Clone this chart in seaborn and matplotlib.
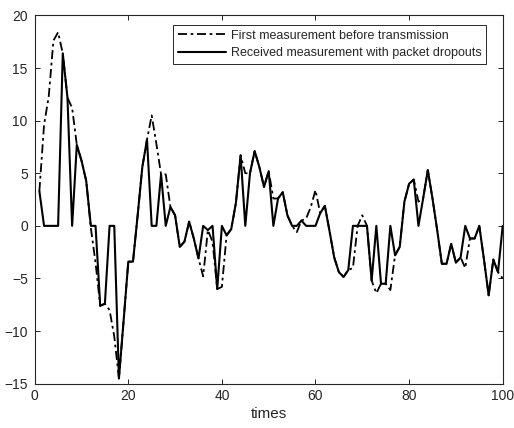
import numpy as np
import pandas as pd
import matplotlib
matplotlib.use("Agg")
import matplotlib.pyplot as plt
import seaborn as sns

# sample index
times = np.arange(1, 101)

# first measurement before transmission (dash-dot)
first_meas = [
    3.3, 9.6, 12.3, 17.6, 18.4, 16.4, 12.2, 11.2, 7.7, 6.2,
    4.3, -0.2, -3.5, -7.6, -7.4, -8.0, -10.5, -14.5, -9.0, -3.4,
    -3.4, 1.0, 5.6, 8.2, 10.5, 7.8, 4.9, 4.9, 1.8, 1.0,
    -2.0, -1.5, 0.4, -1.2, -3.1, -4.8, -0.4, -1.5, -6.0, -5.8,
    -0.9, -0.3, 2.2, 6.7, 5.0, 5.0, 7.1, 5.6, 3.7, 5.2,
    2.6, 2.6, 3.2, 1.0, 0.0, -0.6, 0.5, 0.7, 1.8, 3.4,
    1.2, 1.9, -0.5, -3.0, -4.4, -4.85, -4.2, -4.0, 0.0, 1.0,
    0.0, -5.2, -6.4, -5.5, -5.5, -6.1, -2.8, -2.0, 2.3, 4.0,
    4.4, 2.3, 2.6, 5.3, 2.6, -0.4, -3.6, -3.6, -1.7, -3.5,
    -3.0, -4.0, -1.2, -1.2, 0.0, -3.2, -6.6, -3.2, -4.4, -5.0,
]

# received measurement, zero where the packet was dropped (solid)
received = [
    3.3, 0.0, 0.0, 0.0, 0.0, 16.4, 12.2, 0.0, 7.7, 6.2,
    4.3, 0.0, 0.0, -7.6, -7.4, 0.0, 0.0, -14.5, -9.0, -3.4,
    -3.4, 1.0, 5.6, 8.2, 0.0, 0.0, 4.9, 0.0, 1.8, 1.0,
    -2.0, -1.5, 0.4, -1.2, -3.1, 0.0, -0.4, 0.0, -6.0, 0.0,
    -0.9, -0.3, 2.2, 6.7, 0.0, 5.0, 7.1, 5.6, 3.7, 5.2,
    0.0, 2.6, 3.2, 1.0, 0.0, 0.0, 0.5, 0.0, 0.0, 0.0,
    1.2, 1.9, -0.5, -3.0, -4.4, -4.85, -4.2, 0.0, 0.0, 0.0,
    0.0, -5.2, 0.0, -5.5, -5.5, 0.0, -2.8, -2.0, 2.3, 4.0,
    4.4, 0.0, 2.6, 5.3, 2.6, -0.4, -3.6, -3.6, -1.7, -3.5,
    -3.0, 0.0, -1.2, -1.2, 0.0, -3.2, -6.6, -3.2, -4.4, 0.0,
]

labels = ["First measurement before transmission",
          "Received measurement with packet dropouts"]

sns.set_style("white")
plt.rcParams["font.family"] = ["Liberation Sans", "DejaVu Sans"]
axcol = "#262626"

fig = plt.figure(figsize=(5.14, 4.28), dpi=100)
ax = fig.add_axes([0.0675, 0.1035, 0.9105, 0.8605])

sns.lineplot(x=times, y=first_meas, ax=ax, color="black", lw=1.3,
             linestyle=(0, (5, 2, 1.5, 2)), label=labels[0])
sns.lineplot(x=times, y=received, ax=ax, color="black", lw=1.5,
             linestyle="-", label=labels[1])

ax.set_xlim(0, 100)
ax.set_ylim(-15, 20)
ax.set_xticks([0, 20, 40, 60, 80, 100])
ax.set_yticks([-15, -10, -5, 0, 5, 10, 15, 20])
ax.set_xlabel("times", fontsize=11, color=axcol, labelpad=3)

for s in ax.spines.values():
    s.set_visible(True)
    s.set_color(axcol)
    s.set_linewidth(0.8)
ax.tick_params(direction="in", length=3.5, width=0.7, colors=axcol,
               labelsize=10, top=True, right=True, bottom=True, left=True)
ax.tick_params(axis="x", pad=4)
ax.tick_params(axis="y", pad=5)

leg = ax.legend(loc="upper right", bbox_to_anchor=(0.965, 0.975),
                fontsize=9, frameon=True, fancybox=False, framealpha=1,
                edgecolor=axcol, handlelength=3.8, handletextpad=0.4,
                labelspacing=0.45, borderpad=0.4, borderaxespad=0)
leg.get_frame().set_linewidth(0.7)

fig.savefig("out.png", dpi=100)
